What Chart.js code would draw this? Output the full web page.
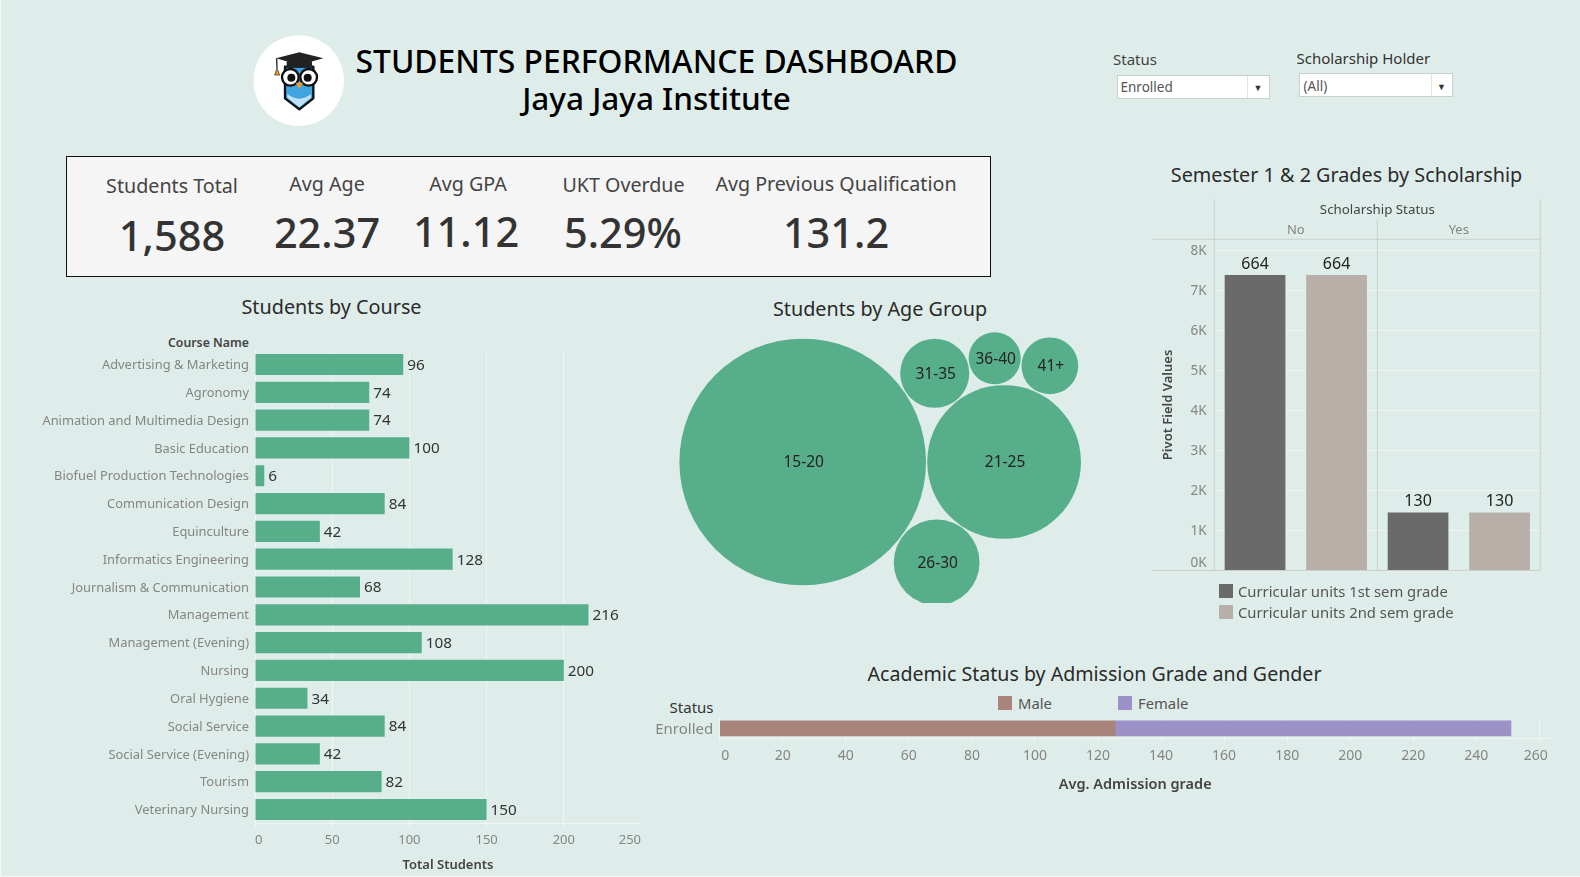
<!DOCTYPE html>
<html>
<head>
<meta charset="utf-8">
<title>Students Performance Dashboard</title>
<script src="https://cdn.jsdelivr.net/npm/chart.js@4"></script>
<style>
  html, body { margin: 0; padding: 0; width: 1580px; height: 877px; overflow: hidden; background: #dfedea; font-family: "Noto Sans", sans-serif; }
  body { box-sizing: border-box; border-left: 1px solid #f3f7f6; border-bottom: 1px solid #f3f7f6; }
  canvas, .t, .box, .sw, svg { position: absolute; }
  .t { white-space: nowrap; transform: translate(-50%, -50%); color: #333; }
  .r { transform: translate(-100%, -50%); }
  .l { transform: translate(0, -50%); }
  .title { font-size: 19.8px; color: #2a2a2a; }
  .filter { background: #fff; border: 1px solid #c9cfcd; box-sizing: border-box; }
  .leg { font-size: 14.8px; color: #555; }
</style>
</head>
<body>
<svg style="left:230px;top:20px" width="300" height="120" viewBox="0 0 900 360">
  <circle cx="206" cy="182" r="136" fill="#fff"/>
  <path d="M165 140 L250 140 L250 235 L208 268 L165 235 Z" fill="#3fa4e0" stroke="#111" stroke-width="7" stroke-linejoin="round"/>
  <path d="M172 222 Q208 250 243 222 L243 233 L208 262 L172 233 Z" fill="#bfe3f6"/>
  <path d="M138 115 L208 97 L280 115 L208 135 Z" fill="#222"/>
  <path d="M170 124 L246 124 L246 142 L170 142 Z" fill="#222"/>
  <path d="M140 115 L141 145" stroke="#222" stroke-width="4"/>
  <path d="M134 165 L141 145 L149 165 Z" fill="#f39a25" stroke="#222" stroke-width="2"/>
  <circle cx="181" cy="172" r="25" fill="#fff" stroke="#111" stroke-width="7"/>
  <circle cx="236" cy="172" r="25" fill="#fff" stroke="#111" stroke-width="7"/>
  <circle cx="184" cy="173" r="12" fill="#111"/>
  <circle cx="233" cy="173" r="12" fill="#111"/>
  <path d="M197 188 L219 188 L208 206 Z" fill="#f39a25"/>
</svg>

<div class="t" style="left:656.5px;top:60px;font-size:31.8px;font-weight:500;color:#000">STUDENTS PERFORMANCE DASHBOARD</div>
<div class="t" style="left:656.5px;top:96.5px;font-size:31.5px;font-weight:500;color:#000">Jaya Jaya Institute</div>

<div class="t l" style="left:1113px;top:58.5px;font-size:15px;color:#444">Status</div>
<div class="box filter" style="left:1117px;top:75px;width:153px;height:24px"></div>
<div class="box" style="left:1247px;top:76px;width:1px;height:22px;background:#dfe3e2"></div>
<div class="t l" style="left:1120.5px;top:87px;font-size:13.5px;color:#555">Enrolled</div>
<div class="t" style="left:1258px;top:87px;font-size:9px;color:#333">▼</div>

<div class="t l" style="left:1296.5px;top:58px;font-size:15px;color:#333">Scholarship Holder</div>
<div class="box filter" style="left:1299px;top:73px;width:154px;height:24px"></div>
<div class="box" style="left:1431px;top:74px;width:1px;height:22px;background:#dfe3e2"></div>
<div class="t l" style="left:1303.5px;top:86px;font-size:13.5px;color:#555">(All)</div>
<div class="t" style="left:1441.5px;top:86px;font-size:9px;color:#333">▼</div>

<div class="box" id="kpiBox" style="left:66px;top:156px;width:925px;height:121px;background:#f5f5f5;border:1px solid #111;box-sizing:border-box"></div>

<div class="t title" style="left:331.5px;top:305.5px">Students by Course</div>
<div class="t r" style="left:249px;top:342px;font-size:12.3px;font-weight:600;color:#444">Course Name</div>
<canvas id="courseChart" style="left:20px;top:330px" width="640" height="545"></canvas>

<div class="t title" style="left:880px;top:307.5px">Students by Age Group</div>
<canvas id="ageChart" style="left:670px;top:330px" width="420" height="273"></canvas>

<div class="t title" style="left:1346.5px;top:173.5px">Semester 1 &amp; 2 Grades by Scholarship</div>
<canvas id="gradeChart" style="left:1145px;top:195px" width="405" height="400"></canvas>
<div class="sw" style="left:1219px;top:584px;width:14px;height:14px;background:#6a6a6a"></div>
<div class="t l leg" style="left:1238px;top:591px">Curricular units 1st sem grade</div>
<div class="sw" style="left:1219px;top:605px;width:14px;height:14px;background:#b8afa9"></div>
<div class="t l leg" style="left:1238px;top:612px">Curricular units 2nd sem grade</div>

<div class="t title" style="left:1094.5px;top:673px;font-size:19.6px">Academic Status by Admission Grade and Gender</div>
<div class="t r" style="left:713.5px;top:706.5px;font-size:15px;color:#333">Status</div>
<div class="sw" style="left:998px;top:696px;width:14px;height:14px;background:#a8847b"></div>
<div class="t l leg" style="left:1018px;top:703px">Male</div>
<div class="sw" style="left:1118px;top:696px;width:14px;height:14px;background:#9c92c8"></div>
<div class="t l leg" style="left:1138px;top:703px">Female</div>
<canvas id="genderChart" style="left:640px;top:700px" width="930" height="100"></canvas>

<script>
let kpiNames = ["Students Total", "Avg Age", "Avg GPA", "UKT Overdue", "Avg Previous Qualification"];
let kpiValues = ["1,588", "22.37", "11.12", "5.29%", "131.2"];

let courseNames = ["Advertising & Marketing", "Agronomy", "Animation and Multimedia Design", "Basic Education",
    "Biofuel Production Technologies", "Communication Design", "Equinculture", "Informatics Engineering",
    "Journalism & Communication", "Management", "Management (Evening)", "Nursing", "Oral Hygiene",
    "Social Service", "Social Service (Evening)", "Tourism", "Veterinary Nursing"];
let courseStudents = [96, 74, 74, 100, 6, 84, 42, 128, 68, 216, 108, 200, 34, 84, 42, 82, 150];

let ageGroups = ["15-20", "21-25", "26-30", "31-35", "36-40", "41+"];
let ageStudents = [942, 366, 114, 74, 42, 50];
// which two bubbles each one sits against, and on which side of them
let agePacking = [null, null, [0, 1, -1], [0, 1, 1], [3, 1, 1], [4, 1, 1]];

let scholarshipStatus = ["No", "Yes"];
let grade1stSem = [7380, 1446];
let grade2ndSem = [7380, 1446];
let gradeRecords = [664, 130];
let gradeTicks = [0, 1000, 2000, 3000, 4000, 5000, 6000, 7000, 8000];

let admissionStatus = ["Enrolled"];
let admissionMale = [125.4];
let admissionFemale = [125.6];

let colorGreen = "#57ae8b";
let colorGrid = "#eff6f4";
let colorTick = "#858585";
let colorFacet = "#cbd0cf";

Chart.defaults.font.family = '"Noto Sans", sans-serif';
Chart.defaults.animation = false;
Chart.defaults.responsive = false;
Chart.defaults.plugins.legend.display = false;
Chart.defaults.plugins.tooltip.enabled = false;

// KPI strip
let kpiNameX = [172, 327, 468, 623.5, 836];
let kpiNameY = [184.5, 182.5, 182.5, 183.5, 182.5];
let kpiValueX = [172, 327, 466, 623, 836];
let kpiValueY = [234.5, 232, 230.5, 231.5, 232];
kpiNames.forEach((name, i) => {
    let a = document.createElement("div");
    a.className = "t";
    a.style.cssText = `left:${kpiNameX[i]}px;top:${kpiNameY[i]}px;font-size:19.7px;color:#444`;
    a.textContent = name;
    document.body.appendChild(a);
    let b = document.createElement("div");
    b.className = "t";
    b.style.cssText = `left:${kpiValueX[i]}px;top:${kpiValueY[i]}px;font-size:41.5px;font-weight:500;color:#333`;
    b.textContent = kpiValues[i];
    document.body.appendChild(b);
});

let endLabels = {
    id: "endLabels",
    afterDatasetsDraw: (chart) => {
        let ctx = chart.ctx;
        ctx.save();
        ctx.font = '15.3px "Noto Sans"';
        ctx.fillStyle = "#333";
        ctx.textAlign = "left";
        ctx.textBaseline = "middle";
        chart.getDatasetMeta(0).data.forEach((bar, i) => {
            ctx.fillText(courseStudents[i], bar.x + 4, bar.y + 1);
        });
        ctx.restore();
    }
};

new Chart(document.getElementById("courseChart"), {
    type: "bar",
    data: {
        labels: courseNames,
        datasets: [{ data: courseStudents, backgroundColor: colorGreen, barPercentage: 0.76, categoryPercentage: 1 }]
    },
    options: {
        indexAxis: "y",
        layout: { padding: { top: 20.6, right: 19 } },
        scales: {
            x: {
                min: 0, max: 250,
                // no line at the far right end
                grid: { color: (c) => c.tick && c.tick.value === 250 ? "rgba(0,0,0,0)" : colorGrid, tickLength: 4 },
                border: { color: colorGrid },
                ticks: { stepSize: 50, align: "inner", color: colorTick, font: { size: 13 }, padding: 5, maxRotation: 0 },
                title: { display: true, text: "Total Students", color: "#444", font: { size: 13, weight: "600" }, padding: { top: 0, bottom: 2 } },
                afterFit: (scale) => { scale.height = 51.6; }
            },
            y: {
                grid: { display: false, drawTicks: false },
                border: { color: colorGrid },
                ticks: { color: colorTick, font: { size: 12.9 }, padding: 6, autoSkip: false, labelOffset: 1 },
                afterFit: (scale) => { scale.width = 235; }
            }
        }
    },
    plugins: [endLabels]
});

// bubbles are tangent to each other, so positions follow from the radii
let bubbleRadius = ageStudents.map(v => Math.sqrt(v) * 4.018);
let bubbleGap = 0.6;
let tangentTo = (p1, r1, p2, r2, r, side) => {
    let dx = p2.x - p1.x, dy = p2.y - p1.y, d = Math.hypot(dx, dy);
    let a = ((r1 + r) ** 2 - (r2 + r) ** 2 + d * d) / (2 * d);
    let h = Math.sqrt((r1 + r) ** 2 - a * a);
    return { x: p1.x + (a * dx - side * h * dy) / d, y: p1.y + (a * dy + side * h * dx) / d };
};
let bubblePoints = [];
ageStudents.forEach((v, i) => {
    let r = bubbleRadius[i] + bubbleGap;
    let p;
    if (i === 0) p = { x: 0, y: 0 };
    else if (i === 1) p = { x: bubbleRadius[0] + bubbleGap + r, y: 0 };
    else {
        let n = agePacking[i];
        p = tangentTo(bubblePoints[n[0]], bubbleRadius[n[0]] + bubbleGap, bubblePoints[n[1]], bubbleRadius[n[1]] + bubbleGap, r, n[2]);
    }
    bubblePoints.push({ x: p.x, y: p.y, r: bubbleRadius[i] });
});

let bubbleLabels = {
    id: "bubbleLabels",
    afterDatasetsDraw: (chart) => {
        let ctx = chart.ctx;
        ctx.save();
        ctx.font = '15.5px "Noto Sans"';
        ctx.fillStyle = "#222";
        ctx.textAlign = "center";
        ctx.textBaseline = "middle";
        chart.getDatasetMeta(0).data.forEach((pt, i) => {
            ctx.fillText(ageGroups[i], pt.x + 1, pt.y + 1);
        });
        ctx.restore();
    }
};

new Chart(document.getElementById("ageChart"), {
    type: "bubble",
    data: { datasets: [{ data: bubblePoints, backgroundColor: colorGreen, borderWidth: 0, clip: 0 }] },
    options: {
        layout: { autoPadding: false },
        scales: {
            x: { display: false, min: -132.7, max: 287.3 },
            y: { display: false, min: -141, max: 132 }
        }
    },
    plugins: [bubbleLabels]
});

let gradeExtras = {
    id: "gradeExtras",
    afterDatasetsDraw: (chart) => {
        let ctx = chart.ctx;
        let area = chart.chartArea;
        let x = chart.scales.x;
        ctx.save();
        ctx.strokeStyle = colorFacet;
        ctx.lineWidth = 1;
        let line = (x1, y1, x2, y2) => {
            ctx.beginPath();
            ctx.moveTo(x1, y1);
            ctx.lineTo(x2, y2);
            ctx.stroke();
        };
        let mid = (area.left + area.right) / 2;
        line(area.left, 4, area.left, area.bottom);
        line(area.right, 4, area.right, area.bottom);
        line(mid, 24, mid, area.bottom);
        line(7, area.top, area.right, area.top);
        line(7, area.bottom, area.right, area.bottom);

        ctx.textAlign = "center";
        ctx.textBaseline = "middle";
        ctx.font = '13.3px "Noto Sans"';
        ctx.fillStyle = "#444";
        ctx.fillText("Scholarship Status", mid, 15);
        ctx.font = '13px "Noto Sans"';
        ctx.fillStyle = colorTick;
        scholarshipStatus.forEach((s, i) => {
            ctx.fillText(s, x.getPixelForValue(i), 35);
        });

        ctx.font = '16px "Noto Sans"';
        ctx.fillStyle = "#222";
        ctx.textBaseline = "bottom";
        chart.data.datasets.forEach((ds, d) => {
            chart.getDatasetMeta(d).data.forEach((bar, i) => {
                ctx.fillText(gradeRecords[i], bar.x, bar.y - 3);
            });
        });
        ctx.restore();
    }
};

new Chart(document.getElementById("gradeChart"), {
    type: "bar",
    data: {
        labels: scholarshipStatus,
        datasets: [
            { label: "Curricular units 1st sem grade", data: grade1stSem, backgroundColor: "#6a6a6a", barPercentage: 0.745, categoryPercentage: 1 },
            { label: "Curricular units 2nd sem grade", data: grade2ndSem, backgroundColor: "#b8afa9", barPercentage: 0.745, categoryPercentage: 1 }
        ]
    },
    options: {
        layout: { padding: { top: 44.3, right: 9.7 } },
        scales: {
            x: {
                grid: { display: false },
                border: { display: false },
                ticks: { display: false },
                afterFit: (scale) => { scale.height = 24; }
            },
            y: {
                min: 0, max: 8272,
                bounds: "data",
                afterBuildTicks: (scale) => { scale.ticks = gradeTicks.map(v => ({ value: v })); },
                grid: { color: colorGrid, drawTicks: false },
                border: { display: false },
                ticks: {
                    color: colorTick,
                    padding: 7.6,
                    labelOffset: 1,
                    font: { size: 13.5, lineHeight: 1.25 },
                    // empty second line lifts 0K above the axis
                    callback: (v) => v === 0 ? ["0K", ""] : (v / 1000) + "K"
                },
                title: { display: true, text: "Pivot Field Values", color: "#444", font: { size: 13, weight: "600" }, padding: { top: 15, bottom: 0 } },
                afterFit: (scale) => { scale.width = 69.3; }
            }
        }
    },
    plugins: [gradeExtras]
});

new Chart(document.getElementById("genderChart"), {
    type: "bar",
    data: {
        labels: admissionStatus,
        datasets: [
            { label: "Male", data: admissionMale, backgroundColor: "#a8847b", barThickness: 15 },
            { label: "Female", data: admissionFemale, backgroundColor: "#9c92c8", barThickness: 15 }
        ]
    },
    options: {
        indexAxis: "y",
        layout: { padding: { top: 18, right: 19.3 } },
        scales: {
            x: {
                stacked: true,
                min: 0, max: 263.6,
                bounds: "data",
                grid: { color: colorGrid, tickLength: 3 },
                border: { color: colorGrid },
                ticks: {
                    stepSize: 20,
                    includeBounds: false,
                    color: colorTick,
                    font: { size: 14 },
                    padding: 6,
                    maxRotation: 0,
                    // spaces nudge the two end labels inwards like the original
                    callback: (v) => v === 0 ? "   0" : v === 260 ? "260  " : v
                },
                title: { display: true, text: "Avg. Admission grade", color: "#444", font: { size: 14.5, weight: "600" }, padding: { top: 0, bottom: 6 } },
                afterFit: (scale) => { scale.height = 61.3; }
            },
            y: {
                stacked: true,
                grid: { display: false, drawTicks: false },
                border: { color: colorGrid },
                ticks: { color: colorTick, font: { size: 15 }, padding: 6.5, labelOffset: 1 },
                afterFit: (scale) => { scale.width = 79.7; }
            }
        }
    }
});
</script>
</body>
</html>
